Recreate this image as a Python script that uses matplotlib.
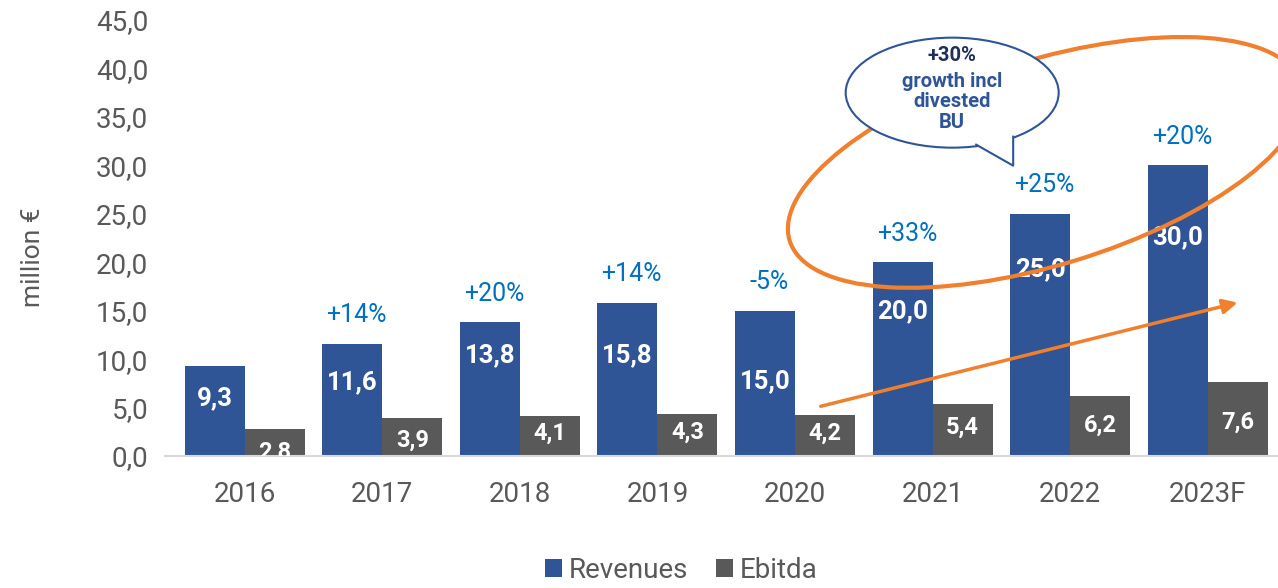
import matplotlib.pyplot as plt
import numpy as np
from matplotlib.patches import Ellipse, Polygon
from matplotlib.transforms import ScaledTranslation

plt.rcParams['font.family'] = ['Roboto', 'DejaVu Sans']

# Data
years = ['2016', '2017', '2018', '2019', '2020', '2021', '2022', '2023F']
revenues = [9.3, 11.6, 13.8, 15.8, 15.0, 20.0, 25.0, 30.0]
ebitda = [2.8, 3.9, 4.1, 4.3, 4.2, 5.4, 6.2, 7.6]
growth = ['', '+14%', '+20%', '+14%', '-5%', '+33%', '+25%', '+20%']
callout_text = '+30%\ngrowth incl\ndivested\nBU'

# label offsets below bar top (points)
rev_drop = [23, 28, 24, 38, 51, 35, 40, 52]
ebit_drop = [17, 16, 12, 13, 13, 17, 21, 29]

blue = '#2F5597'
grey = '#595959'
orange = '#F07F2E'
pct_blue = '#0070C0'

fig = plt.figure(figsize=(12.78, 5.88), dpi=100)
ax = fig.add_axes([0.129, 0.2245, 0.871, 0.7415])

x = np.arange(len(years))
w = 0.436
b1 = ax.bar(x - w / 2, revenues, w, color=blue, label='Revenues', zorder=2)
b2 = ax.bar(x + w / 2, ebitda, w, color=grey, label='Ebitda', zorder=2)

for i in range(len(years)):
    ax.annotate(f'{revenues[i]:.1f}'.replace('.', ','), (x[i] - w / 2, revenues[i]),
                xytext=(0, -rev_drop[i]), textcoords='offset points',
                ha='center', va='center', color='white', fontsize=18.5,
                fontweight='bold', clip_on=True, zorder=3)
    ax.annotate(f'{ebitda[i]:.1f}'.replace('.', ','), (x[i] + w / 2, ebitda[i]),
                xytext=(0, -ebit_drop[i]), textcoords='offset points',
                ha='center', va='center', color='white', fontsize=17,
                fontweight='bold', clip_on=True, zorder=3)
    if growth[i]:
        ax.annotate(growth[i], (x[i] - w / 2, revenues[i]),
                    xytext=(3, 12), textcoords='offset points',
                    ha='center', va='bottom', color=pct_blue, fontsize=18, zorder=3)

ax.set_xlim(-0.58, 7.51)
ax.set_ylim(0, 45)
ax.set_yticks(np.arange(0, 46, 5))
ax.set_yticklabels([f'{v:.1f}'.replace('.', ',') for v in np.arange(0, 46, 5)])
ax.set_xticks(x)
ax.set_xticklabels(years)
ax.tick_params(axis='both', length=0, labelsize=20, labelcolor=grey)
ax.tick_params(axis='x', pad=18)
ax.tick_params(axis='y', pad=12)
for s in ['top', 'right', 'left']:
    ax.spines[s].set_visible(False)
ax.spines['bottom'].set_color('#D9D9D9')
ax.spines['bottom'].set_linewidth(1.5)
ax.set_ylabel('million €', fontsize=19, color=grey)
ax.yaxis.set_label_coords(-0.108, 0.455)

# orange ellipse around last three bars
big = Ellipse((0, 0), 5.35, 2.05, angle=17, fill=False, edgecolor=orange, lw=3,
              transform=fig.dpi_scale_trans + ScaledTranslation(5.82, 30.3, ax.transData),
              clip_on=False, zorder=4)
ax.add_patch(big)

# orange trend arrow
ax.annotate('', xy=(7.236, 15.9), xytext=(4.167, 5.06),
            arrowprops=dict(arrowstyle='-|>', color=orange, lw=2.5, mutation_scale=22),
            zorder=4)

# speech bubble
tr = fig.dpi_scale_trans + ScaledTranslation(5.142, 37.5, ax.transData)
bubble = Ellipse((0, 0), 2.13, 1.10, facecolor='white', edgecolor=blue, lw=1.5,
                 transform=tr, clip_on=False, zorder=5)
ax.add_patch(bubble)
p1, tip, p2 = (0.24, -0.52), (0.61, -0.73), (0.61, -0.44)
ax.add_patch(Polygon([p1, tip, p2], closed=True, facecolor='white', edgecolor='none',
                     transform=tr, clip_on=False, zorder=6))
ax.plot([p1[0], tip[0], p2[0]], [p1[1], tip[1], p2[1]], color=blue, lw=1.5,
        transform=tr, clip_on=False, zorder=7)
lines = callout_text.split('\n')
ax.text(0, 0.37, lines[0], transform=tr, ha='center', va='center', fontsize=14.5,
        fontweight='bold', color='#1F2F5A', zorder=8)
ax.text(0, -0.09, '\n'.join(lines[1:]), transform=tr, ha='center', va='center',
        fontsize=14.5, fontweight='bold', color=blue, linespacing=1.1, zorder=8)

fig.legend(handles=[b1, b2], labels=['Revenues', 'Ebitda'], loc='center',
           bbox_to_anchor=(0.533, 0.03), ncol=2, frameon=False, fontsize=20,
           handlelength=0.6, handleheight=0.6, handletextpad=0.25, columnspacing=1.0,
           labelcolor=grey)

fig.savefig('out.png', dpi=100)
